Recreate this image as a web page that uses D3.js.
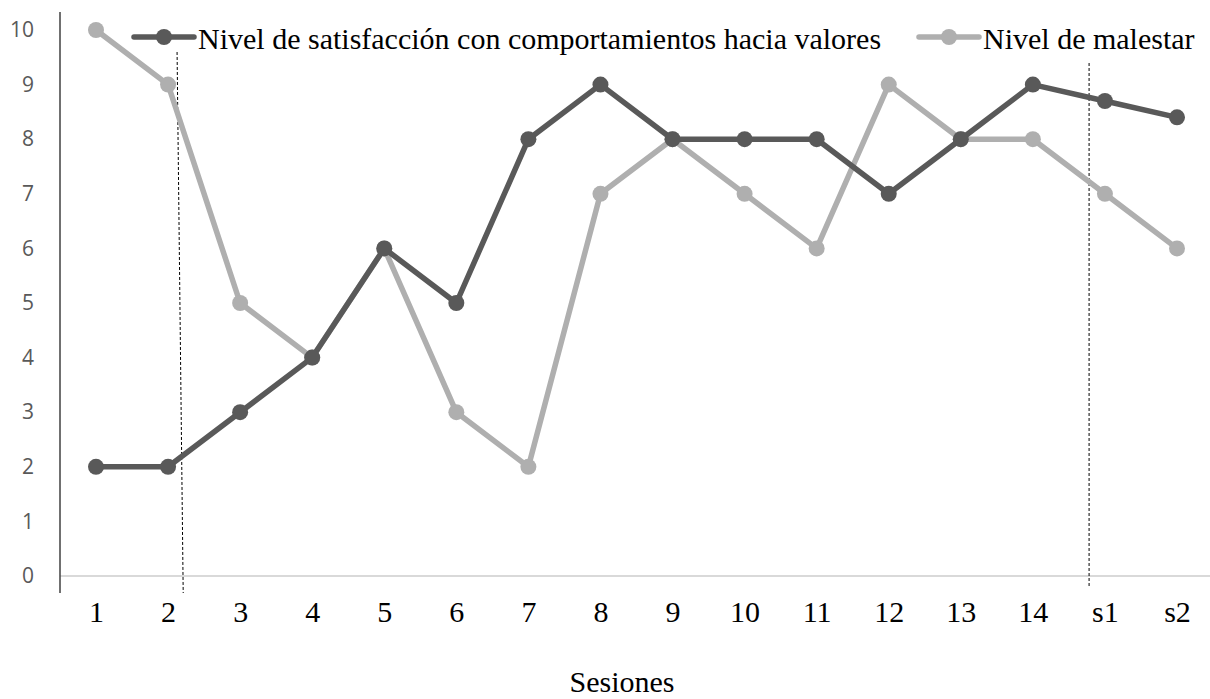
<!DOCTYPE html>
<html>
<head>
<meta charset="utf-8">
<script src="https://cdn.jsdelivr.net/npm/d3@7"></script>
<style>
  html, body { margin: 0; padding: 0; background: #fff; }
  svg { display: block; }
</style>
</head>
<body>
<svg id="chart" width="1210" height="699"></svg>
<script>
// Sessions and the two measured series
const sessions = ["1","2","3","4","5","6","7","8","9","10","11","12","13","14","s1","s2"];
const satisfaccion = [2, 2, 3, 4, 6, 5, 8, 9, 8, 8, 8, 7, 8, 9, 8.7, 8.4];
const malestar = [10, 9, 5, 4, 6, 3, 2, 7, 8, 7, 6, 9, 8, 8, 7, 6];
const yTicks = [0,1,2,3,4,5,6,7,8,9,10];
const seriesNames = ["Nivel de satisfacción con comportamientos hacia valores", "Nivel de malestar"];

const svg = d3.select("#chart");
const darkColor = "#595959";
const lightColor = "#afafaf";
const serif = "'Liberation Serif', 'Times New Roman', serif";

const x = d3.scalePoint().domain(sessions).range([96, 1177]);
const y = d3.scaleLinear().domain([0, 10]).range([576, 30]);
const step = x.step();

// zero baseline
svg.append("line")
  .attr("x1", 60).attr("x2", 1210)
  .attr("y1", y(0)).attr("y2", y(0))
  .attr("stroke", "#d9d9d9").attr("stroke-width", 2);

// y axis
const yAxis = d3.axisLeft(y).tickValues(yTicks).tickSize(0).tickPadding(26).tickFormat(d3.format("d"));
const gy = svg.append("g").attr("transform", "translate(60,0)").call(yAxis);
gy.select(".domain").remove();
gy.attr("font-family", "'Open Sans', 'Noto Sans', sans-serif").attr("font-size", 21);
gy.selectAll("text").attr("fill", "#595959");
svg.append("line")
  .attr("x1", 60).attr("x2", 60).attr("y1", 12).attr("y2", 593)
  .attr("stroke", "#404040").attr("stroke-width", 1.5);

// x axis labels
const xAxis = d3.axisBottom(x).tickSize(0).tickPadding(25);
const gx = svg.append("g").attr("transform", `translate(0,${y(0)})`).call(xAxis);
gx.select(".domain").remove();
gx.attr("font-family", serif).attr("font-size", 30);
gx.selectAll("text").attr("fill", "#000");

// phase change lines
const phaseLines = [
  { x1: x("2") + step * 0.125, y1: 52, x2: x("2") + step * 0.21, y2: 593 },
  { x1: x("14") + step * 0.78, y1: 63, x2: x("14") + step * 0.78, y2: 586 }
];
svg.selectAll(".phase").data(phaseLines).enter().append("line")
  .attr("class", "phase")
  .attr("x1", d => d.x1).attr("y1", d => d.y1)
  .attr("x2", d => d.x2).attr("y2", d => d.y2)
  .attr("stroke", "#000").attr("stroke-width", 1)
  .attr("stroke-dasharray", "3,2");

// series lines and markers
const line = d3.line().x((d, i) => x(sessions[i])).y(d => y(d));
const series = [
  { values: malestar, color: lightColor },
  { values: satisfaccion, color: darkColor }
];
series.forEach(s => {
  svg.append("path").datum(s.values)
    .attr("d", line)
    .attr("fill", "none").attr("stroke", s.color)
    .attr("stroke-width", 5.5).attr("stroke-linejoin", "round").attr("stroke-linecap", "round");
  svg.selectAll(null).data(s.values).enter().append("circle")
    .attr("cx", (d, i) => x(sessions[i])).attr("cy", d => y(d))
    .attr("r", 8).attr("fill", s.color);
});

// legend
const legend = [
  { name: seriesNames[0], color: darkColor, x: 134 },
  { name: seriesNames[1], color: lightColor, x: 919 }
];
legend.forEach(l => {
  const g = svg.append("g").attr("transform", `translate(${l.x},37)`);
  g.append("line").attr("x1", 0).attr("x2", 60).attr("y1", 0).attr("y2", 0)
    .attr("stroke", l.color).attr("stroke-width", 5.5).attr("stroke-linecap", "round");
  g.append("circle").attr("cx", 30).attr("cy", 0).attr("r", 8).attr("fill", l.color);
  g.append("text").attr("x", 64).attr("y", 12)
    .attr("font-family", serif)
    .attr("font-size", 30).attr("fill", "#000").text(l.name);
});

// axis title
svg.append("text").attr("x", 622).attr("y", 692).attr("text-anchor", "middle")
  .attr("font-family", serif)
  .attr("font-size", 30).attr("fill", "#000").text("Sesiones");
</script>
</body>
</html>
